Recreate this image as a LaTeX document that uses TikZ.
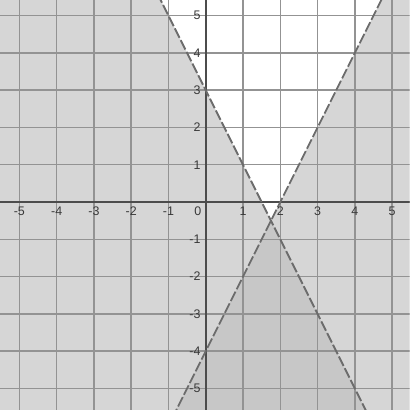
\documentclass[tikz,border=0pt]{standalone}
\usepackage{fontspec}
\setmainfont{Liberation Sans}
\begin{document}
\begin{tikzpicture}[x=1cm, y=1cm,
    gridline/.style={gray!85, line width=1.1pt},
    axisline/.style={gray!60!black, line width=1.3pt},
    boundary/.style={gray!85!black, line width=1.4pt, dash pattern=on 8pt off 2pt},
    onefill/.style={fill=gray!32},
    twofill/.style={fill=gray!44},
    tick/.style={font=\fontsize{9.5}{11}\selectfont, text=gray!45!black, inner sep=1pt}]
  \useasboundingbox (-5.52,-5.58) rectangle (5.47,5.42);
  \begin{scope}
    \clip (-5.52,-5.58) rectangle (5.47,5.42);
    % y < -2x+3 and y < 2x-4
    \fill[onefill] (-6,15) -- (6,-9) -- (-6,-9) -- cycle;
    \fill[onefill] (-6,-16) -- (6,8) -- (6,-16) -- cycle;
    \fill[twofill] (1.75,-0.5) -- (6,-9) -- (6,-16) -- (-6,-16) -- cycle;
    \draw[gridline] (-5.52,-5.58) grid (5.47,5.42);
    \draw[axisline] (-5.52,0) -- (5.47,0);
    \draw[axisline] (0,-5.58) -- (0,5.42);
    \draw[boundary] (-1.3,5.6) -- (4.4,-5.8);
    \draw[boundary] (-0.9,-5.8) -- (4.8,5.6);
  \end{scope}
  \foreach \x in {-5,...,-1,1,2,3,4,5}{
    \node[tick] (xl\x) at (\x,-0.25) {\x};
  }
  \foreach \y in {-5,...,-1,1,2,3,4,5}{
    \node[tick, anchor=east] (yl\y) at (-0.1,\y) {\y};
  }
  \node[tick] (origin) at (-0.21,-0.25) {0};
\end{tikzpicture}
\end{document}
